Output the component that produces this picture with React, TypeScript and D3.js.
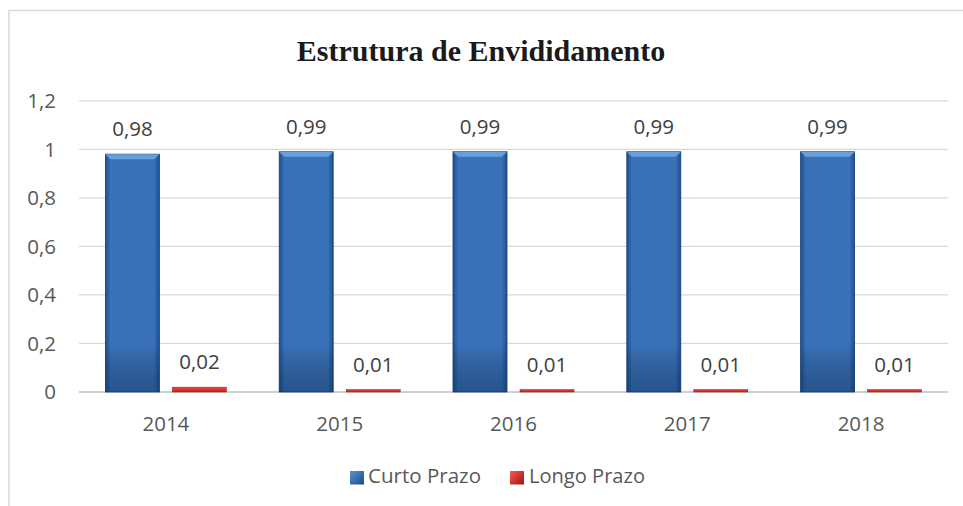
import React from "react";
import * as d3 from "d3";

const categories = ["2014", "2015", "2016", "2017", "2018"];
const curtoPrazo = [0.98, 0.99, 0.99, 0.99, 0.99];
const longoPrazo = [0.02, 0.01, 0.01, 0.01, 0.01];
const seriesNames = ["Curto Prazo", "Longo Prazo"];
const yTicks = [0, 0.2, 0.4, 0.6, 0.8, 1, 1.2];

const W = 963, H = 506;
const fmt = (v: number) => String(v).replace(".", ",");
const FONT = "'Open Sans', sans-serif";
const FS = 20.5;

export default function App() {
  const y = d3.scaleLinear().domain([0, 1.2]).range([392, 100.8]);
  const xOuter = d3.scaleBand().domain(categories).range([79, 948]);
  const bw = 54;
  const gap = 13;

  const bars: any[] = [];
  categories.forEach((c, i) => {
    const cx = xOuter(c)! + xOuter.bandwidth() / 2;
    bars.push({ s: 0, x: cx - gap / 2 - bw, v: curtoPrazo[i] });
    bars.push({ s: 1, x: cx + gap / 2, v: longoPrazo[i] });
  });

  return (
    <svg width={W} height={H} style={{ position: "absolute", left: 0, top: 0 }}>
      <defs>
        <linearGradient id="gBlue" x1="0" x2="1" y1="0" y2="0">
          <stop offset="0" stopColor="#1d4f8f" />
          <stop offset="0.1" stopColor="#3a72b9" />
          <stop offset="0.9" stopColor="#3a72b9" />
          <stop offset="1" stopColor="#1d4f8f" />
        </linearGradient>
        <linearGradient id="gBlueV" x1="0" x2="0" y1="0" y2="1">
          <stop offset="0" stopColor="#ffffff" stopOpacity="0" />
          <stop offset="0.8" stopColor="#000000" stopOpacity="0" />
          <stop offset="1" stopColor="#0a2a55" stopOpacity="0.4" />
        </linearGradient>
        <linearGradient id="gRed" x1="0" x2="0" y1="0" y2="1">
          <stop offset="0" stopColor="#f04a3e" />
          <stop offset="1" stopColor="#c0201a" />
        </linearGradient>
        <linearGradient id="lBlue" x1="0" x2="1" y1="0" y2="1">
          <stop offset="0" stopColor="#5b93d6" />
          <stop offset="1" stopColor="#1a4a85" />
        </linearGradient>
        <linearGradient id="lRed" x1="0" x2="1" y1="0" y2="1">
          <stop offset="0" stopColor="#ff5a50" />
          <stop offset="1" stopColor="#9a1410" />
        </linearGradient>
      </defs>
      <rect x={0} y={0} width={W} height={H} fill="#ffffff" />
      <path d={`M9,${H} V10.5 H${W}`} fill="none" stroke="#d9d9d9" strokeWidth={1.5} />
      <text x={481} y={61} textAnchor="middle" fontFamily="'Liberation Serif', 'Times New Roman', serif" fontWeight="bold" fontSize={30} fill="#1a1a1a">
        Estrutura de Envididamento
      </text>
      {yTicks.map((t) => (
        <g key={t}>
          <line x1={79} x2={948} y1={y(t)} y2={y(t)} stroke={t === 0 ? "#d0d0d0" : "#d9d9d9"} strokeWidth={t === 0 ? 2 : 1.3} />
          <text x={56} y={y(t) + 7.3} textAnchor="end" fontFamily={FONT} fontSize={FS} fill="#595959">{fmt(t)}</text>
        </g>
      ))}
      {bars.map((b, i) => {
        const top = y(b.v);
        const h = 392 - top;
        if (b.s === 0) {
          const bev = 5;
          return (
            <g key={i}>
              <rect x={b.x} y={top} width={bw} height={h} fill="url(#gBlue)" stroke="#173f73" strokeWidth={0.8} />
              <rect x={b.x} y={top} width={bw} height={h} fill="url(#gBlueV)" />
              <polygon points={`${b.x},${top} ${b.x + bw},${top} ${b.x + bw - bev},${top + bev} ${b.x + bev},${top + bev}`} fill="#6ea4e0" opacity={0.9} />
            </g>
          );
        }
        return (
          <g key={i}>
            <rect x={b.x} y={top} width={bw} height={h} fill="url(#gRed)" stroke="#8a1a14" strokeWidth={0.5} />
          </g>
        );
      })}
      {bars.map((b, i) => (
        <text key={"l" + i} x={b.x + bw / 2} y={y(b.v) - 18} textAnchor="middle" fontFamily={FONT} fontSize={FS} fill="#404040">
          {fmt(b.v)}
        </text>
      ))}
      {categories.map((c) => (
        <text key={c} x={xOuter(c)! + xOuter.bandwidth() / 2} y={431} textAnchor="middle" fontFamily={FONT} fontSize={FS} fill="#595959">{c}</text>
      ))}
      <g>
        <rect x={350} y={471} width={14} height={13.5} fill="url(#lBlue)" />
        <text x={368} y={483.3} fontFamily={FONT} fontSize={FS} fill="#595959" textLength={113} lengthAdjust="spacingAndGlyphs">{seriesNames[0]}</text>
        <rect x={510} y={471} width={14} height={13.5} fill="url(#lRed)" />
        <text x={529} y={483.3} fontFamily={FONT} fontSize={FS} fill="#595959" textLength={116} lengthAdjust="spacingAndGlyphs">{seriesNames[1]}</text>
      </g>
    </svg>
  );
}
